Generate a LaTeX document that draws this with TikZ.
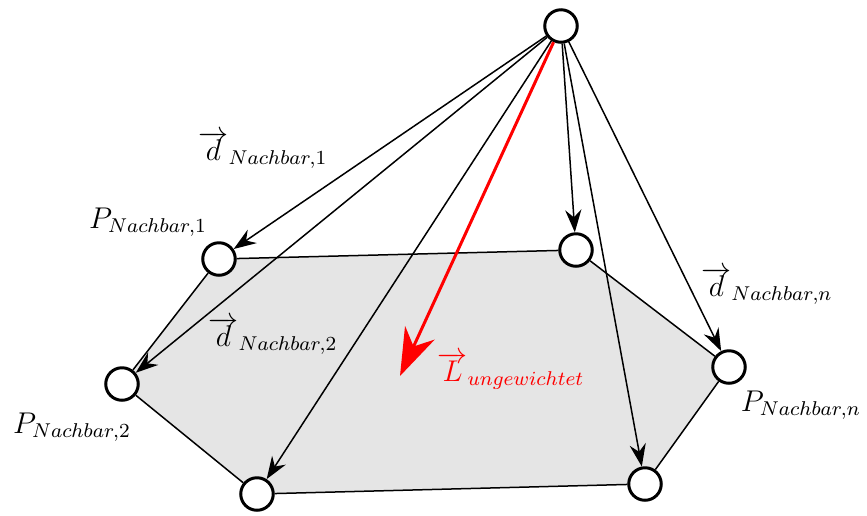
\documentclass[tikz,border=0pt]{standalone}
\usetikzlibrary{arrows.meta}
\begin{document}
\begin{tikzpicture}[x=0.4pt,y=-0.4pt,
  pt/.style={circle,draw,line width=1.2pt,fill=white,minimum size=13pt,inner sep=0pt},
  edge/.style={line width=0.6pt},
  arr/.style={line width=0.6pt,-{Stealth[length=9pt,width=6.5pt,inset=3pt]}},
  redarr/.style={red,line width=1.2pt,-{Stealth[length=19pt,width=13pt,inset=6pt]}},
  lbl/.style={font=\large,inner sep=0pt}]
\useasboundingbox (0,0) rectangle (867,515);
\coordinate (cT) at (561,26);
\coordinate (c1) at (219,259);
\coordinate (c3) at (576,250);
\coordinate (cn) at (729,367);
\coordinate (c5) at (645,484);
\coordinate (c6) at (257,494);
\coordinate (c2) at (122,384);
\coordinate (L) at (400,376);
\fill[gray!20] (c1) -- (c3) -- (cn) -- (c5) -- (c6) -- (c2) -- cycle;
\node[pt] (T) at (cT) {};
\node[pt] (P1) at (c1) {};
\node[pt] (P3) at (c3) {};
\node[pt] (Pn) at (cn) {};
\node[pt] (P5) at (c5) {};
\node[pt] (P6) at (c6) {};
\node[pt] (P2) at (c2) {};
\draw[edge] (P1) -- (P3) -- (Pn) -- (P5) -- (P6) -- (P2) -- (P1);
\draw[arr] (T) -- (P1);
\draw[arr] (T) -- (P2);
\draw[arr] (T) -- (P6);
\draw[arr] (T) -- (P3);
\draw[arr] (T) -- (P5);
\draw[arr] (T) -- (Pn);
\draw[redarr] (T) -- (L);
\node[lbl] (d1) at (263,150) {$\overrightarrow{d}_{Nachbar,1}$};
\node[lbl] (p1l) at (148,222) {$P_{Nachbar,1}$};
\node[lbl] (d2) at (273,336) {$\overrightarrow{d}_{Nachbar,2}$};
\node[lbl] (p2l) at (72,427) {$P_{Nachbar,2}$};
\node[lbl,text=red] (Ll) at (511,371) {$\overrightarrow{L}_{ungewichtet}$};
\node[lbl] (dn) at (767,286) {$\overrightarrow{d}_{Nachbar,n}$};
\node[lbl] (pnl) at (801,405) {$P_{Nachbar,n}$};
\end{tikzpicture}
\end{document}
